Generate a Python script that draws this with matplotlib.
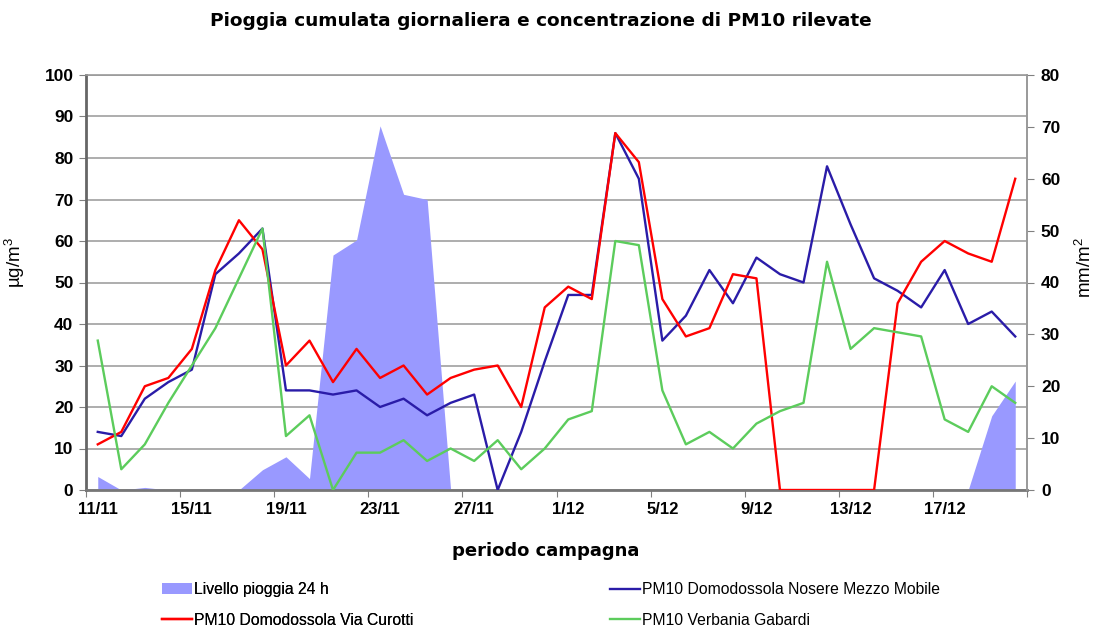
import matplotlib
matplotlib.use('Agg')
import matplotlib.pyplot as plt
import numpy as np
import pandas as pd

# giorni della campagna (11/11 -> 20/12)
days = [d.strftime('%d/%m').lstrip('0').replace('/0', '/') for d in pd.date_range('2008-11-11', periods=40)]
tick_days = days[::4]

# pioggia cumulata 24 h (mm/m2)
rain = [2.6, 0, 0.5, 0, 0, 0, 0, 3.9, 6.4, 2.2, 45.3, 48.2, 70.2, 57, 56,
        0, 0, 0, 0, 0, 0, 0, 0, 0, 0, 0, 0, 0, 0, 0, 0, 0, 0, 0, 0, 0, 0, 0,
        14.3, 21]

# PM10 (ug/m3)
nosere = [14, 13, 22, 26, 29, 52, 57, 63, 24, 24, 23, 24, 20, 22, 18, 21, 23, 0, 14, 31,
          47, 47, 86, 75, 36, 42, 53, 45, 56, 52, 50, 78, 64, 51, 48, 44, 53, 40, 43, 37]
curotti = [11, 14, 25, 27, 34, 53, 65, 58, 30, 36, 26, 34, 27, 30, 23, 27, 29, 30, 20, 44,
           49, 46, 86, 79, 46, 37, 39, 52, 51, 0, 0, 0, 0, 0, 45, 55, 60, 57, 55, 75]
gabardi = [36, 5, 11, 21, 30, 39, 51, 63, 13, 18, 0, 9, 9, 12, 7, 10, 7, 12, 5, 10,
           17, 19, 60, 59, 24, 11, 14, 10, 16, 19, 21, 55, 34, 39, 38, 37, 17, 14, 25, 21]

plt.rcParams['font.family'] = ['Liberation Sans', 'DejaVu Sans']
plt.rcParams['mathtext.fontset'] = 'custom'
plt.rcParams['mathtext.rm'] = 'Liberation Sans'
plt.rcParams['mathtext.default'] = 'regular'

W, H = 1097, 631
fig = plt.figure(figsize=(W / 100, H / 100), dpi=100)
ax = fig.add_axes([86 / W, 1 - 490 / H, 941 / W, 415 / H])
ax2 = ax.twinx()

x = np.arange(len(days))

ax.set_axisbelow(True)
ax.yaxis.grid(True, color='#a0a0a0', lw=1.2)
# area pioggia: disegnata sull'asse sinistro ma con la scala destra
rain_fill = ax.fill_between(x, rain, color='#9999ff', lw=0, transform=ax2.transData, zorder=1)
l_nos, = ax.plot(x, nosere, color='#2a1ca8', lw=1.7, zorder=3)
l_cur, = ax.plot(x, curotti, color='#ff0000', lw=1.7, zorder=3)
l_gab, = ax.plot(x, gabardi, color='#5ccc5c', lw=1.7, zorder=3)

ax.set_xlim(-0.5, len(days) - 0.5)
ax.set_ylim(0, 100)
ax2.set_ylim(0, 80)
ax.set_yticks(np.arange(0, 101, 10))
ax2.set_yticks(np.arange(0, 81, 10))

ax.set_xticks(np.arange(-0.5, len(days), 4))
ax.set_xticklabels([])
ax.set_xticks(x[::4], minor=True)
ax.set_xticklabels(tick_days, minor=True)
ax.tick_params(axis='x', which='major', direction='out', length=5, color='#808080')
ax.tick_params(axis='x', which='minor', length=0, pad=9, labelsize=12)
ax.tick_params(axis='y', direction='out', length=5, color='#808080', labelsize=12.5, pad=4)
ax2.tick_params(axis='y', direction='out', length=5, color='#808080', labelsize=12.5, pad=5)
for lab in ax.get_xticklabels(minor=True) + ax.get_yticklabels() + ax2.get_yticklabels():
    lab.set_fontweight('bold')

for s in ['top', 'right']:
    ax.spines[s].set_color('#999999')
    ax.spines[s].set_linewidth(1.2)
ax.spines['left'].set_color('#666666')
ax.spines['left'].set_linewidth(2)
ax.spines['bottom'].set_color('#777777')
ax.spines['bottom'].set_linewidth(2)
for s in ['top', 'left', 'bottom']:
    ax2.spines[s].set_visible(False)
ax2.spines['right'].set_color('#999999')
ax2.spines['right'].set_linewidth(1.2)

ax.set_ylabel('µg/m$^3$', fontsize=13.5)
ax.yaxis.set_label_coords(-0.0627, 0.549)
ax2.set_ylabel('mm/m$^2$', fontsize=13.5)
ax2.yaxis.set_label_coords(1.051, 0.535)

fig.text(541 / W, 1 - 21 / H, 'Pioggia cumulata giornaliera e concentrazione di PM10 rilevate',
         ha='center', va='center', fontsize=13.3, fontweight='bold', family='DejaVu Sans')
fig.text(546 / W, 1 - 551 / H, 'periodo campagna',
         ha='center', va='center', fontsize=13, fontweight='bold', family='DejaVu Sans')

leg_font = {'family': ['Liberation Sans'], 'size': 11.3}
leg1 = fig.legend([rain_fill, l_cur], ['Livello pioggia 24 h', 'PM10 Domodossola Via Curotti'],
                  loc='center left', bbox_to_anchor=(148 / W, 1 - 605 / H), frameon=False,
                  prop=leg_font, handlelength=1.9, handletextpad=0.15, labelspacing=1.0)
leg2 = fig.legend([l_nos, l_gab], ['PM10 Domodossola Nosere Mezzo Mobile', 'PM10 Verbania Gabardi'],
                  loc='center left', bbox_to_anchor=(596 / W, 1 - 605 / H), frameon=False,
                  prop=leg_font, handlelength=1.9, handletextpad=0.15, labelspacing=1.0)
fig.add_artist(leg1)

fig.savefig('out.png', dpi=100)
